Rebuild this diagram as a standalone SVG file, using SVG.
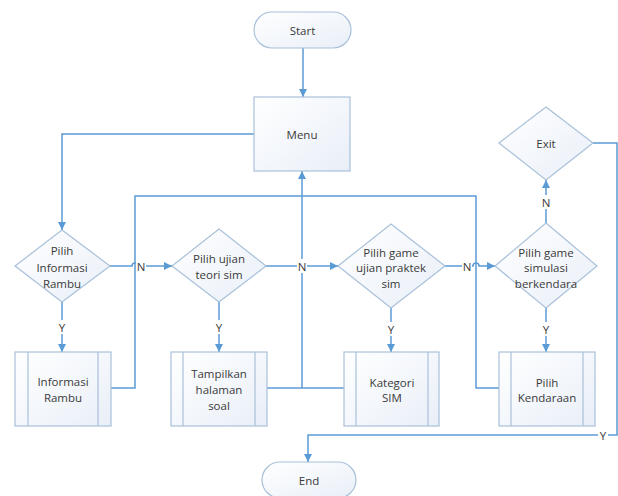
<svg xmlns="http://www.w3.org/2000/svg" width="618" height="496" viewBox="0 0 618 496">
<defs>
<linearGradient id="g" x1="0" y1="0" x2="1" y2="1">
<stop offset="0" stop-color="#ffffff"/>
<stop offset="1" stop-color="#e9eff8"/>
</linearGradient>
<marker id="ah" viewBox="0 0 10 10" refX="10" refY="5" markerWidth="8" markerHeight="8" markerUnits="userSpaceOnUse" orient="auto">
<path d="M0,0 L10,5 L0,10 z" fill="#5b9bd5"/>
</marker>
<style>
.s{fill:url(#g);stroke:#a9c0da;stroke-width:1.2}
.l{fill:none;stroke:#a9c0da;stroke-width:1.2}
.t{font-family:"Open Sans","Liberation Sans",sans-serif;font-size:11.5px;fill:#3a3a3a;text-anchor:middle;dominant-baseline:central}
.c{fill:none;stroke:#5b9bd5;stroke-width:1.5}
.a{marker-end:url(#ah)}
.lb{font-family:"Open Sans","Liberation Sans",sans-serif;font-size:11.5px;fill:#3a3a3a;text-anchor:middle;dominant-baseline:central}
.bg{fill:#ffffff}
</style>
</defs>
<rect width="618" height="496" fill="#ffffff"/>

<g id="connectors">
<path class="c a" d="M303 48 V97"/>
<path class="c a" d="M254 134 H62 V230"/>
<path class="c a" d="M62 302 V352"/>
<path class="c a" d="M110 266 H132 A3 3 0 0 1 138 266 H172"/>
<path class="c a" d="M266 266 H338"/>
<path class="c a" d="M445 266 H473 A3 3 0 0 1 479 266 H495"/>
<path class="c a" d="M546 223 V180"/>
<path class="c a" d="M219 302 V352"/>
<path class="c a" d="M391 308 V352"/>
<path class="c a" d="M546 308 V352"/>
<path class="c" d="M111 388 H135 V196 H302"/>
<path class="c" d="M499 388 H476 V196 H302"/>
<path class="c" d="M267 388 H344"/>
<path class="c a" d="M302 388 V171"/>
<path class="c a" d="M593 143 H617 V435 H308 V462"/>
<rect class="bg" x="136" y="259" width="10" height="14"/>
<text class="lb" x="141" y="266">N</text>
<rect class="bg" x="297" y="259" width="10" height="14"/>
<text class="lb" x="302" y="266">N</text>
<rect class="bg" x="462" y="259" width="10" height="14"/>
<text class="lb" x="467" y="266">N</text>
<rect class="bg" x="541" y="195" width="10" height="14"/>
<text class="lb" x="546" y="202">N</text>
<rect class="bg" x="57" y="320" width="10" height="14"/>
<text class="lb" x="62" y="327">Y</text>
<rect class="bg" x="214" y="320" width="10" height="14"/>
<text class="lb" x="219" y="327">Y</text>
<rect class="bg" x="386" y="322" width="10" height="14"/>
<text class="lb" x="391" y="329">Y</text>
<rect class="bg" x="541" y="322" width="10" height="14"/>
<text class="lb" x="546" y="329">Y</text>
<rect class="bg" x="598" y="428" width="10" height="14"/>
<text class="lb" x="603" y="435">Y</text>
</g>

<g id="start">
<rect class="s" x="254" y="12" width="97" height="36" rx="18"/>
<text class="t" x="302.5" y="30">Start</text>
</g>

<g id="menu">
<rect class="s" x="254" y="97" width="96" height="74"/>
<text class="t" x="302" y="134">Menu</text>
</g>

<g id="d1">
<polygon class="s" points="62,230 110,266 62,302 15,266"/>
<text class="t" x="62" y="250">Pilih</text>
<text class="t" x="62" y="267">Informasi</text>
<text class="t" x="62" y="283">Rambu</text>
</g>

<g id="d2">
<polygon class="s" points="219,229 266,266 219,302 172,266"/>
<text class="t" x="219" y="258">Pilih ujian</text>
<text class="t" x="219" y="274">teori sim</text>
</g>

<g id="d3">
<polygon class="s" points="391,224 445,266 391,308 338,266"/>
<text class="t" x="391" y="252">Pilih game</text>
<text class="t" x="391" y="267">ujian praktek</text>
<text class="t" x="391" y="283">sim</text>
</g>

<g id="d4">
<polygon class="s" points="546,223 597,266 546,308 495,266"/>
<text class="t" x="546" y="252">Pilih game</text>
<text class="t" x="546" y="267">simulasi</text>
<text class="t" x="546" y="283">berkendara</text>
</g>

<g id="exit">
<polygon class="s" points="546,107 593,143 546,180 499,143"/>
<text class="t" x="546" y="143">Exit</text>
</g>

<g id="b1">
<rect class="s" x="15" y="352" width="96" height="74"/>
<path class="l" d="M28 352 V426 M98 352 V426"/>
<text class="t" x="63" y="381">Informasi</text>
<text class="t" x="63" y="397">Rambu</text>
</g>

<g id="b2">
<rect class="s" x="171" y="352" width="96" height="74"/>
<path class="l" d="M183 352 V426 M255 352 V426"/>
<text class="t" x="219" y="373">Tampilkan</text>
<text class="t" x="219" y="389">halaman</text>
<text class="t" x="219" y="405">soal</text>
</g>

<g id="b3">
<rect class="s" x="344" y="352" width="95" height="74"/>
<path class="l" d="M356 352 V426 M428 352 V426"/>
<text class="t" x="392" y="382">Kategori</text>
<text class="t" x="392" y="397">SIM</text>
</g>

<g id="b4">
<rect class="s" x="499" y="352" width="96" height="74"/>
<path class="l" d="M511 352 V426 M583 352 V426"/>
<text class="t" x="547" y="382">Pilih</text>
<text class="t" x="547" y="397">Kendaraan</text>
</g>

<g id="end">
<rect class="s" x="262" y="462" width="94" height="36" rx="18"/>
<text class="t" x="309" y="480">End</text>
</g>
</svg>
